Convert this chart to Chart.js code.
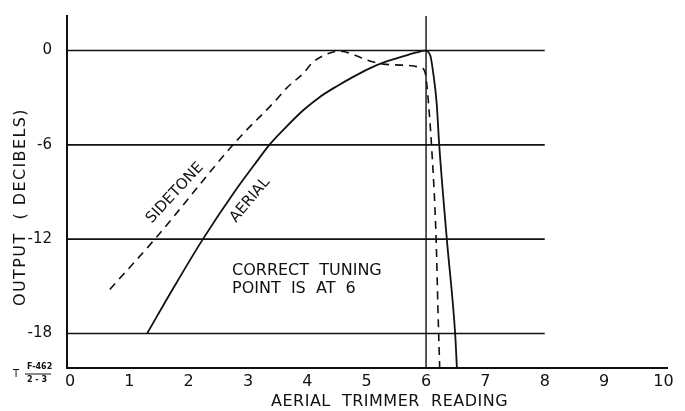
<!DOCTYPE html>
<html>
<head>
<meta charset="utf-8">
<script src="https://cdn.jsdelivr.net/npm/chart.js@4"></script>
<style>
  html, body { margin: 0; padding: 0; background: #fff; }
  #wrap { width: 685px; height: 411px; }
</style>
</head>
<body>
<div id="wrap"><canvas id="chart" width="685" height="411"></canvas></div>
<script>
// aerial trimmer reading (x) against output in decibels (y)
const aerialX = [1.30, 1.76, 2.24, 2.77, 3.10, 3.36, 3.62, 3.93, 4.20, 4.49, 4.75, 5.05, 5.30, 5.50, 5.70, 5.84, 5.98, 6.07, 6.12, 6.18, 6.22, 6.35, 6.49, 6.52];
const aerialY = [-18, -15.0, -12, -9.0, -7.3, -6.0, -4.95, -3.8, -2.98, -2.28, -1.72, -1.13, -0.74, -0.5, -0.27, -0.12, 0, -0.3, -1.4, -3.4, -5.9, -12, -18, -20.2];

const sidetoneX = [0.67, 1.43, 2.81, 3.48, 3.65, 3.93, 4.10, 4.32, 4.55, 4.80, 5.05, 5.28, 5.62, 5.90, 5.98, 6.01, 6.04, 6.09, 6.17, 6.20, 6.23];
const sidetoneY = [-15.2, -12, -5.73, -3.12, -2.39, -1.45, -0.72, -0.24, -0.03, -0.3, -0.66, -0.86, -0.93, -1.07, -1.34, -2.07, -3.3, -5.9, -12, -16.4, -20.2];

const xTicks = [0, 1, 2, 3, 4, 5, 6, 7, 8, 9, 10];
const yTicks = [0, -6, -12, -18];
const gridLevels = [0, -6, -12, -18];
const gridEnd = 8;
const tuningPoint = 6;

const xMin = -0.05, xMax = 10.06;
const yMin = -20.2, yMax = 2.2;

const xTitle = "AERIAL  TRIMMER  READING";
const yTitle = "OUTPUT  ( DECIBELS)";
const noteLines = ["CORRECT  TUNING", "POINT  IS  AT  6"];

const ink = "#111";
const font = "'DejaVu Sans', sans-serif";

const toPoints = (xs, ys) => xs.map((x, i) => ({ x: x, y: ys[i] }));

let datasets = [];
gridLevels.forEach((lvl) => {
  datasets.push({
    data: [{ x: xMin, y: lvl }, { x: gridEnd, y: lvl }],
    borderColor: ink, borderWidth: 1.6, pointRadius: 0, showLine: true,
  });
});
datasets.push({
  data: [{ x: tuningPoint, y: yMin }, { x: tuningPoint, y: yMax }],
  borderColor: ink, borderWidth: 1.4, pointRadius: 0, showLine: true,
});
datasets.push({
  label: "Aerial",
  data: toPoints(aerialX, aerialY),
  borderColor: ink, borderWidth: 1.8, pointRadius: 0, showLine: true,
  cubicInterpolationMode: "monotone",
});
datasets.push({
  label: "Sidetone",
  data: toPoints(sidetoneX, sidetoneY),
  borderColor: ink, borderWidth: 1.6, borderDash: [8, 6], pointRadius: 0, showLine: true,
  cubicInterpolationMode: "monotone",
});

const textPlugin = {
  id: "texts",
  afterDraw(chart) {
    const ctx = chart.ctx;
    ctx.save();
    ctx.fillStyle = ink;
    ctx.font = "16px " + font;
    ctx.textBaseline = "middle";

    // axis titles
    ctx.textAlign = "left";
    ctx.letterSpacing = "0.5px";
    ctx.fillText(xTitle, 271, 402);
    ctx.save();
    ctx.translate(21, 207);
    ctx.rotate(-Math.PI / 2);
    ctx.textAlign = "center";
    ctx.letterSpacing = "1.4px";
    ctx.fillText(yTitle, 0, 0);
    ctx.restore();
    ctx.letterSpacing = "0px";

    // note
    ctx.textAlign = "left";
    ctx.fillText(noteLines[0], 232, 271);
    ctx.fillText(noteLines[1], 232, 289);

    // curve labels
    ctx.font = "15px " + font;
    ctx.save();
    ctx.translate(175, 193);
    ctx.rotate(-47 * Math.PI / 180);
    ctx.textAlign = "center";
    ctx.fillText("SIDETONE", 0, 0);
    ctx.restore();
    ctx.save();
    ctx.translate(250, 200);
    ctx.rotate(-50 * Math.PI / 180);
    ctx.textAlign = "center";
    ctx.fillText("AERIAL", 0, 0);
    ctx.restore();

    // figure reference
    ctx.textAlign = "left";
    ctx.font = "10px " + font;
    ctx.fillText("T", 13, 374);
    ctx.font = "bold 8px " + font;
    ctx.fillText("F-462", 27, 367);
    ctx.fillText("2 - 3", 27, 380);
    ctx.lineWidth = 1;
    ctx.strokeStyle = ink;
    ctx.beginPath();
    ctx.moveTo(25, 374);
    ctx.lineTo(51, 374);
    ctx.stroke();
    ctx.restore();
  },
};

new Chart("chart", {
  type: "scatter",
  data: { datasets: datasets },
  options: {
    responsive: false,
    animation: false,
    layout: { padding: { top: 10, right: 18, left: 0, bottom: 0 } },
    plugins: { legend: { display: false }, tooltip: { enabled: false } },
    scales: {
      x: {
        type: "linear",
        min: xMin,
        max: xMax,
        afterBuildTicks: (scale) => { scale.ticks = xTicks.map((v) => ({ value: v })); },
        afterFit: (scale) => { scale.height = 43; },
        grid: { display: false },
        border: { display: true, color: ink, width: 2 },
        ticks: { color: ink, padding: -4, font: { family: font, size: 16 }, maxRotation: 0 },
      },
      y: {
        type: "linear",
        min: yMin,
        max: yMax,
        afterBuildTicks: (scale) => { scale.ticks = yTicks.map((v) => ({ value: v })); },
        afterFit: (scale) => { scale.width = 67; },
        grid: { display: false },
        border: { display: true, color: ink, width: 2 },
        ticks: { color: ink, padding: 7, font: { family: font, size: 15 } },
      },
    },
  },
  plugins: [textPlugin],
});
</script>
</body>
</html>
